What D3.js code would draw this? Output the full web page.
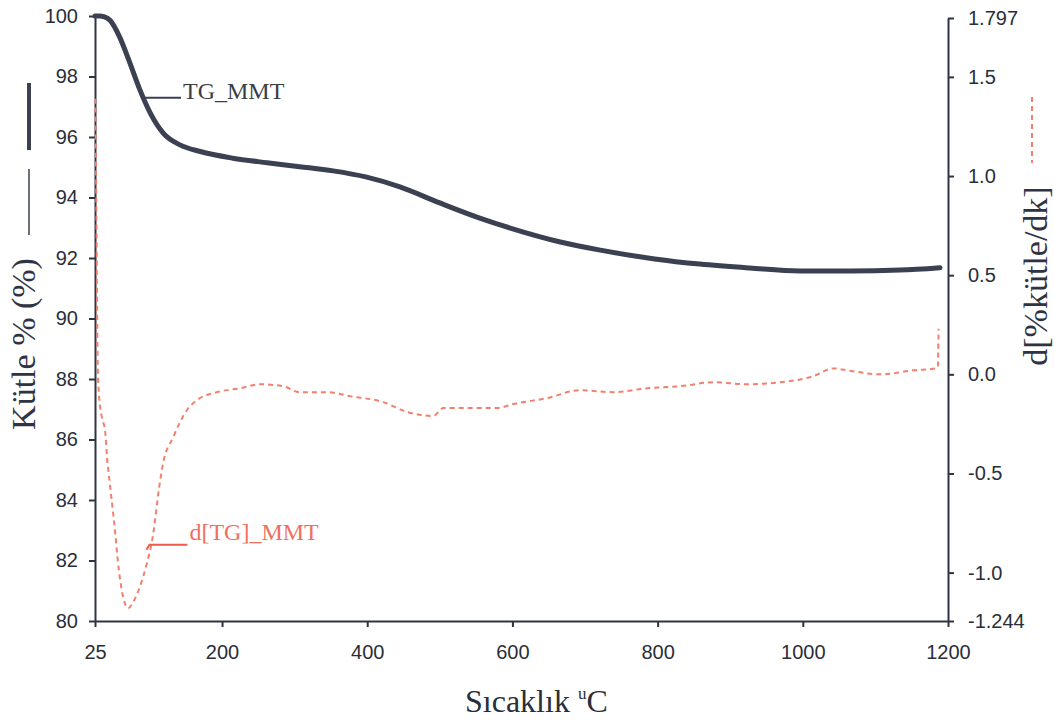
<!DOCTYPE html>
<html>
<head>
<meta charset="utf-8">
<script src="https://cdn.jsdelivr.net/npm/d3@7/dist/d3.min.js"></script>
<style>
  html, body { margin: 0; padding: 0; background: #ffffff; }
  svg { display: block; }
</style>
</head>
<body>
<svg id="chart" width="1054" height="724"></svg>
<script>
// ---- data ----
const tgTemp = [25, 31, 38, 46, 59, 73, 87, 101, 119, 142, 170, 215, 262, 307, 353, 398, 445, 500, 555, 597, 666, 721, 796, 858, 927, 996, 1065, 1134, 1189];
const tgMass = [100, 100, 99.97, 99.85, 99.3, 98.45, 97.55, 96.8, 96.13, 95.74, 95.52, 95.3, 95.15, 95.02, 94.88, 94.68, 94.35, 93.82, 93.32, 92.99, 92.53, 92.26, 91.97, 91.8, 91.67, 91.57, 91.57, 91.6, 91.68];

const dtgTemp = [25.5, 27, 28.5, 30, 34.6, 38.8, 41.6, 45.7, 52.6, 56.7, 63.6, 70.5, 77.4, 87, 96.7, 103.6, 114.6, 118.7, 132.4, 151.7, 165.5, 193, 225, 252, 284, 307, 345, 376, 422, 455, 491, 505, 538, 579, 601, 648, 693, 739, 786, 831, 877, 923, 969, 1014, 1042, 1061, 1107, 1152, 1184, 1186, 1187];
const dtgValue = [1.39, 0.8, 0.1, -0.08, -0.22, -0.28, -0.42, -0.56, -0.79, -0.95, -1.12, -1.18, -1.15, -1.07, -0.95, -0.84, -0.54, -0.45, -0.32, -0.18, -0.13, -0.09, -0.07, -0.05, -0.06, -0.09, -0.09, -0.11, -0.14, -0.19, -0.21, -0.17, -0.17, -0.17, -0.15, -0.12, -0.08, -0.09, -0.07, -0.06, -0.04, -0.05, -0.04, -0.01, 0.03, 0.02, 0.0, 0.02, 0.03, 0.04, 0.23];

const xTicks = [25, 200, 400, 600, 800, 1000, 1200];
const leftTicks = [80, 82, 84, 86, 88, 90, 92, 94, 96, 98, 100];
const rightTicks = [-1.244, -1.0, -0.5, 0.0, 0.5, 1.0, 1.5, 1.797];
const rightTickLabels = ["-1.244", "-1.0", "-0.5", "0.0", "0.5", "1.0", "1.5", "1.797"];

const xTitle = "Sıcaklık";
const xTitleSup = "u";
const xTitleUnit = "C";
const leftTitle = "Kütle % (%)";
const rightTitle = "d[%kütle/dk]";
const tgName = "TG_MMT";
const dtgName = "d[TG]_MMT";

// ---- style ----
const axisColor = "#2e3443";
const tgColor = "#3b4150";
const dtgColor = "#f2806e";
const sansFont = "'Liberation Sans', Arial, sans-serif";
const serifFont = "'Liberation Serif', 'Times New Roman', serif";

const svg = d3.select("#chart");
const x = d3.scaleLinear().domain([25, 1200]).range([95, 948]);
const yL = d3.scaleLinear().domain([80, 100]).range([621, 16]);
const yR = d3.scaleLinear().domain([-1.244, 1.797]).range([621, 18]);

// axes
const gx = svg.append("g").attr("transform", "translate(0,621)")
  .call(d3.axisBottom(x).tickValues(xTicks).tickSize(6).tickSizeOuter(0).tickPadding(18).tickFormat(d3.format("d")));
const gl = svg.append("g").attr("transform", "translate(95,0)")
  .call(d3.axisLeft(yL).tickValues(leftTicks).tickSize(6).tickSizeOuter(0).tickPadding(11).tickFormat(d3.format("d")));
const gr = svg.append("g").attr("transform", "translate(948,0)")
  .call(d3.axisRight(yR).tickValues(rightTicks).tickSize(6).tickSizeOuter(0).tickPadding(14)
    .tickFormat((d, i) => rightTickLabels[i]));

[gx, gl, gr].forEach(g => {
  g.select(".domain").attr("stroke", axisColor).attr("stroke-width", 2);
  g.selectAll(".tick line").attr("stroke", axisColor).attr("stroke-width", 2);
  g.selectAll(".tick text").attr("fill", "#2a2e38").style("font-family", sansFont).style("font-size", "20px");
});

// DTG curve (right axis)
const dtgData = dtgTemp.map((t, i) => [t, dtgValue[i]]);
svg.append("path")
  .datum(dtgData)
  .attr("fill", "none")
  .attr("stroke", dtgColor)
  .attr("stroke-width", 2)
  .attr("stroke-dasharray", "5,4")
  .attr("d", d3.line().x(d => x(d[0])).y(d => yR(d[1])).curve(d3.curveMonotoneX));

// TG curve (left axis)
const tgData = tgTemp.map((t, i) => [t, tgMass[i]]);
svg.append("path")
  .datum(tgData)
  .attr("fill", "none")
  .attr("stroke", tgColor)
  .attr("stroke-width", 5)
  .attr("stroke-linejoin", "round")
  .attr("stroke-linecap", "round")
  .attr("d", d3.line().x(d => x(d[0])).y(d => yL(d[1])).curve(d3.curveMonotoneX));

// series labels with leader lines
const tgLabelT = 87, dtgLabelT = 100;
const tgLx = x(tgLabelT), tgLy = yL(97.3);
svg.append("line").attr("x1", tgLx + 1).attr("y1", tgLy).attr("x2", tgLx + 41).attr("y2", tgLy)
  .attr("stroke", tgColor).attr("stroke-width", 2);
svg.append("text").attr("x", tgLx + 43).attr("y", tgLy + 1)
  .attr("fill", "#3a3d44").style("font-family", serifFont).style("font-size", "24px").text(tgName);

const dLx = x(dtgLabelT), dLy = yR(-0.86);
svg.append("path").attr("d", `M${dLx - 3},${dLy + 5} L${dLx},${dLy} L${dLx + 38},${dLy}`)
  .attr("fill", "none").attr("stroke", "#ec5a4c").attr("stroke-width", 2);
svg.append("text").attr("x", dLx + 40).attr("y", dLy - 5)
  .attr("fill", "#f07060").style("font-family", serifFont).style("font-size", "24px").text(dtgName);

// axis titles
const xt = svg.append("text").attr("x", 465).attr("y", 712)
  .attr("fill", "#2a2e38").style("font-family", serifFont).style("font-size", "32px");
xt.append("tspan").text(xTitle + " ");
xt.append("tspan").attr("dy", -13).style("font-size", "17px").text(xTitleSup);
xt.append("tspan").attr("dy", 13).text(xTitleUnit);

svg.append("text").attr("transform", "translate(35,344) rotate(-90)")
  .attr("text-anchor", "middle").attr("fill", "#2e3443")
  .style("font-family", serifFont).style("font-size", "34px").text(leftTitle);
svg.append("line").attr("x1", 29).attr("x2", 29).attr("y1", 83).attr("y2", 150)
  .attr("stroke", tgColor).attr("stroke-width", 4);
svg.append("line").attr("x1", 29).attr("x2", 29).attr("y1", 169).attr("y2", 235)
  .attr("stroke", tgColor).attr("stroke-width", 1.5);

svg.append("text").attr("transform", "translate(1047,276) rotate(-90)")
  .attr("text-anchor", "middle").attr("fill", "#2e3443")
  .style("font-family", serifFont).style("font-size", "34px").text(rightTitle);
svg.append("line").attr("x1", 1032).attr("x2", 1032).attr("y1", 97).attr("y2", 163)
  .attr("stroke", dtgColor).attr("stroke-width", 2).attr("stroke-dasharray", "5,4");
</script>
</body>
</html>
